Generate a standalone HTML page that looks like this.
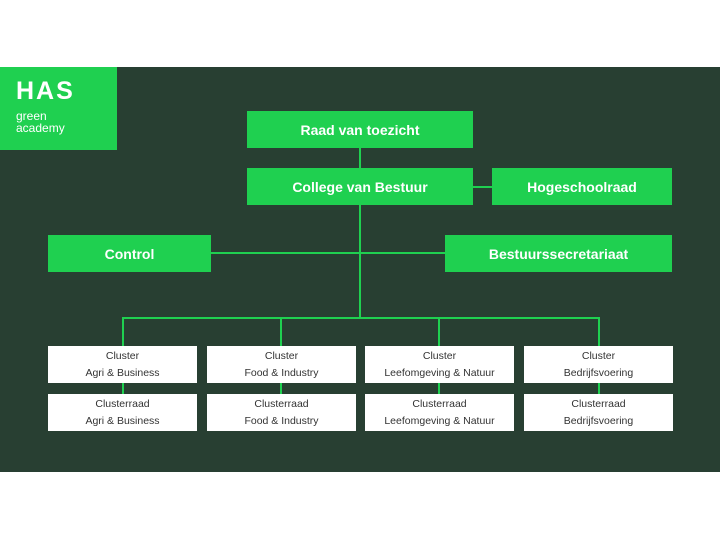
<!DOCTYPE html>
<html><head><style>
body{margin:0;width:720px;height:540px;background:#fff;position:relative;overflow:hidden;font-family:"Liberation Sans",sans-serif}
.bg{position:absolute;left:0;top:67px;width:720px;height:405px;background:#283f32}
.g{position:absolute;background:#1fd050;color:#fff;font-weight:bold;font-size:14px;display:flex;align-items:center;justify-content:center}
.w{position:absolute;background:#fff;color:#333;font-size:10.5px;text-align:center;line-height:17px;display:flex;flex-direction:column;justify-content:center;height:37px;width:149px}
.l{position:absolute;background:#1fd050}
</style></head><body>
<div class="bg"></div>
<div class="g" style="left:0;top:67px;width:117px;height:83px;display:block">
<div style="position:absolute;left:16px;top:10px;font-size:25px;letter-spacing:2px">HAS</div>
<div style="position:absolute;left:16px;top:43px;font-size:12px;font-weight:normal;line-height:12px">green<br>academy</div></div>
<div class="l" style="left:359px;top:148px;width:2px;height:170px"></div>
<div class="l" style="left:211px;top:252px;width:234px;height:2px"></div>
<div class="l" style="left:473px;top:186px;width:19px;height:2px"></div>
<div class="l" style="left:122px;top:317px;width:478px;height:2px"></div>
<div class="l" style="left:122px;top:317px;width:2px;height:77px"></div>
<div class="l" style="left:280px;top:317px;width:2px;height:77px"></div>
<div class="l" style="left:438px;top:317px;width:2px;height:77px"></div>
<div class="l" style="left:598px;top:317px;width:2px;height:77px"></div>
<div class="g" style="left:247px;top:111px;width:226px;height:37px">Raad van toezicht</div>
<div class="g" style="left:247px;top:168px;width:226px;height:37px">College van Bestuur</div>
<div class="g" style="left:492px;top:168px;width:180px;height:37px">Hogeschoolraad</div>
<div class="g" style="left:48px;top:235px;width:163px;height:37px">Control</div>
<div class="g" style="left:445px;top:235px;width:227px;height:37px">Bestuurssecretariaat</div>
<div class="w" style="left:48px;top:346px"><span>Cluster</span><span>Agri &amp; Business</span></div>
<div class="w" style="left:207px;top:346px"><span>Cluster</span><span>Food &amp; Industry</span></div>
<div class="w" style="left:365px;top:346px"><span>Cluster</span><span>Leefomgeving &amp; Natuur</span></div>
<div class="w" style="left:524px;top:346px"><span>Cluster</span><span>Bedrijfsvoering</span></div>
<div class="w" style="left:48px;top:394px"><span>Clusterraad</span><span>Agri &amp; Business</span></div>
<div class="w" style="left:207px;top:394px"><span>Clusterraad</span><span>Food &amp; Industry</span></div>
<div class="w" style="left:365px;top:394px"><span>Clusterraad</span><span>Leefomgeving &amp; Natuur</span></div>
<div class="w" style="left:524px;top:394px"><span>Clusterraad</span><span>Bedrijfsvoering</span></div>
</body></html>
